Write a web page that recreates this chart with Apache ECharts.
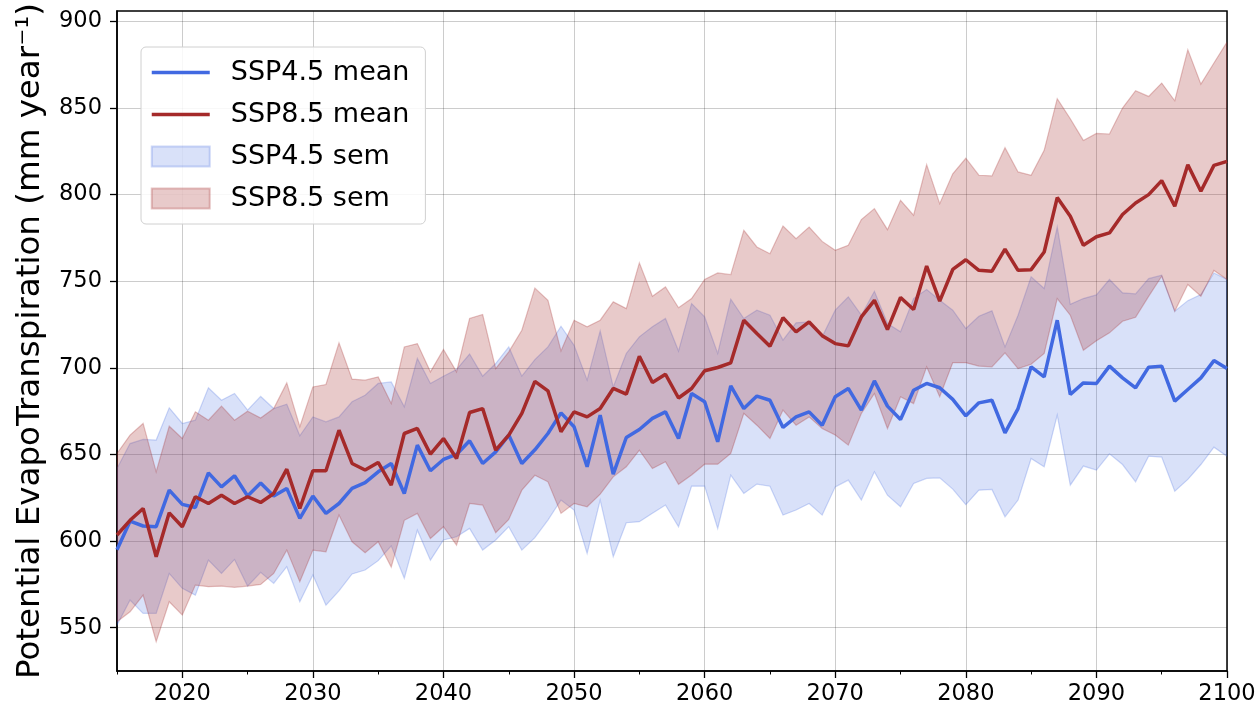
<!DOCTYPE html>
<html>
<head>
<meta charset="utf-8">
<script src="https://cdn.jsdelivr.net/npm/echarts@6/dist/echarts.min.js"></script>
<style>
  html, body { margin: 0; padding: 0; background: #ffffff; }
  #chart { width: 1260px; height: 710px; }
</style>
</head>
<body>
<div id="chart"></div>
<script>
// Annual potential evapotranspiration, 2015-2100 (mm per year)
const firstYear = 2015;
const lastYear = 2100;

const ssp45Mean = [
  595.0, 611.5, 608.7, 608.3, 629.4, 621.2, 619.4, 639.4, 631.3, 637.7,
  626.0, 633.5, 626.0, 630.4, 613.1, 626.0, 616.0, 621.7, 630.4, 633.7,
  640.0, 644.8, 627.5, 655.4, 640.6, 647.1, 650.0, 657.9, 644.8, 651.5,
  661.2, 644.8, 652.7, 662.1, 674.0, 666.0, 642.9, 672.7, 638.7, 659.8,
  664.4, 670.8, 674.6, 659.2, 685.2, 680.4, 657.3, 689.6, 676.5, 683.7,
  681.3, 665.6, 671.7, 674.6, 666.9, 683.3, 688.1, 675.6, 692.5, 677.9,
  670.2, 687.1, 691.0, 688.5, 681.8, 672.3, 679.8, 681.3, 662.5, 676.5,
  700.6, 694.8, 727.5, 684.6, 691.3, 691.0, 701.0, 694.2, 688.5, 700.4,
  701.0, 680.8, 687.5, 694.2, 704.2, 699.6
];
const ssp45Upper = [
  641.9, 656.3, 658.7, 658.3, 676.9, 667.9, 669.8, 688.5, 681.3, 685.2,
  675.6, 683.5, 676.5, 679.0, 660.8, 671.7, 668.8, 671.7, 680.4, 684.2,
  691.0, 691.9, 677.5, 705.4, 691.0, 695.2, 699.0, 708.0, 695.2, 702.5,
  712.1, 695.2, 704.8, 712.1, 724.0, 713.0, 692.9, 721.3, 689.0, 708.3,
  717.9, 723.7, 728.5, 709.7, 737.1, 729.4, 708.3, 739.6, 728.5, 733.3,
  730.4, 716.0, 726.0, 726.5, 717.9, 733.3, 741.0, 730.4, 744.2, 725.6,
  720.8, 740.0, 745.2, 739.0, 733.3, 722.7, 729.8, 732.9, 712.1, 730.4,
  752.5, 745.8, 781.3, 736.7, 740.0, 742.1, 751.0, 743.3, 742.7, 751.5,
  753.5, 732.7, 738.8, 742.3, 754.8, 751.0
];
const ssp45Lower = [
  551.5, 566.0, 558.3, 558.3, 581.3, 572.7, 568.8, 589.0, 581.3, 589.4,
  574.0, 582.0, 575.6, 585.2, 565.0, 580.4, 563.0, 571.3, 581.0, 583.3,
  588.7, 597.3, 578.5, 606.3, 589.0, 600.6, 602.5, 607.3, 594.8, 600.6,
  608.3, 594.8, 602.0, 612.1, 623.7, 617.9, 592.9, 623.7, 591.0, 610.6,
  611.2, 616.0, 620.8, 608.3, 631.7, 631.7, 607.3, 638.1, 627.5, 632.9,
  631.7, 615.0, 617.9, 621.7, 615.0, 631.3, 635.2, 623.7, 640.0, 626.5,
  619.8, 633.3, 636.2, 636.5, 630.0, 621.0, 629.4, 629.8, 614.0, 623.7,
  647.7, 642.9, 672.7, 632.3, 643.3, 641.0, 650.4, 644.2, 634.2, 649.0,
  648.5, 628.8, 635.6, 644.2, 654.2, 649.0
];

const ssp85Mean = [
  603.5, 612.0, 618.8, 591.0, 616.3, 608.3, 625.6, 621.7, 626.5, 621.7,
  625.6, 622.3, 627.5, 641.5, 618.8, 640.6, 640.6, 664.0, 644.8, 641.0,
  645.4, 632.3, 662.1, 665.0, 650.2, 659.2, 647.7, 674.2, 676.5, 652.5,
  661.2, 673.7, 692.2, 686.7, 663.1, 674.6, 671.7, 676.5, 688.1, 684.8,
  706.7, 691.5, 696.3, 682.6, 688.1, 698.3, 700.2, 702.9, 727.5, 719.8,
  712.5, 729.0, 720.8, 726.5, 718.6, 714.0, 712.7, 729.4, 739.0, 722.1,
  740.6, 733.7, 758.8, 738.5, 756.8, 762.4, 756.3, 755.8, 768.5, 756.3,
  756.7, 766.9, 798.3, 787.5, 770.8, 775.7, 777.9, 788.5, 795.2, 800.0,
  808.1, 793.3, 817.3, 801.9, 816.9, 819.2
];
const ssp85Upper = [
  650.6, 661.2, 667.9, 640.0, 666.3, 659.2, 674.6, 669.8, 677.9, 669.8,
  675.0, 671.0, 676.5, 691.3, 666.0, 689.0, 690.4, 714.4, 693.5, 692.9,
  694.8, 679.4, 712.1, 714.0, 697.7, 710.6, 697.7, 728.5, 730.8, 699.6,
  709.2, 721.7, 746.0, 739.0, 709.8, 727.5, 723.7, 727.5, 738.1, 734.2,
  760.6, 741.3, 746.7, 734.7, 740.0, 751.0, 754.8, 753.8, 779.4, 769.8,
  765.9, 781.9, 774.6, 781.3, 773.0, 767.9, 770.8, 785.6, 791.9, 779.8,
  796.7, 788.1, 817.3, 794.8, 812.0, 821.0, 811.2, 810.8, 827.1, 813.1,
  811.2, 825.6, 855.4, 843.8, 831.3, 835.3, 835.0, 850.0, 860.0, 856.7,
  864.4, 854.2, 883.7, 863.8, 876.0, 888.1
];
const ssp85Lower = [
  553.5, 559.2, 568.8, 541.9, 565.0, 557.3, 574.6, 573.7, 574.0, 573.3,
  574.0, 575.0, 581.3, 594.8, 576.5, 594.8, 593.8, 615.0, 599.6, 593.3,
  599.6, 585.0, 612.0, 616.0, 601.5, 608.3, 597.7, 621.7, 620.8, 604.8,
  612.5, 629.4, 638.0, 634.2, 616.0, 621.7, 619.8, 627.1, 637.1, 642.9,
  652.5, 641.9, 645.8, 632.8, 638.1, 644.4, 644.4, 650.6, 673.7, 666.9,
  659.2, 675.6, 666.9, 671.7, 665.0, 661.2, 655.4, 673.7, 685.2, 665.0,
  683.3, 679.4, 700.6, 683.3, 703.0, 703.0, 701.0, 700.6, 708.7, 699.6,
  702.1, 708.3, 740.0, 730.4, 710.2, 715.7, 720.2, 726.9, 729.2, 741.3,
  752.9, 732.7, 748.1, 741.3, 756.2, 751.0
];

const xTickLabels = [2020, 2030, 2040, 2050, 2060, 2070, 2080, 2090, 2100];
const xMinorTicks = [2015, 2025, 2035, 2045, 2055, 2065, 2075, 2085, 2095];
const yTickLabels = [550, 600, 650, 700, 750, 800, 850, 900];

const FONT = 'DejaVu Sans';
const BLUE = '#4169E1';
const RED = '#A52A2A';
const BLUE_FILL = 'rgba(65,105,225,0.2)';
const BLUE_EDGE = 'rgba(65,105,225,0.25)';
const RED_FILL = 'rgba(165,42,42,0.25)';
const RED_EDGE = 'rgba(165,42,42,0.28)';
const MEAN_WIDTH = 3.5;

const years = ssp45Mean.map((_, i) => firstYear + i);
const pairs = (vals) => vals.map((v, i) => [years[i], v]);

// Shaded band between lower and upper bounds, drawn as one closed polygon
function band(name, lower, upper, fill, edge) {
  return {
    name: name,
    type: 'custom',
    silent: true,
    clip: true,
    z: 2,
    itemStyle: { color: fill, borderColor: edge, borderWidth: 1 },
    data: years.map((y, i) => [y, lower[i], upper[i]]),
    encode: { x: 0, y: [1, 2] },
    renderItem: function (params, api) {
      if (params.dataIndex !== 0) return null;
      const pts = [];
      for (let i = 0; i < years.length; i++) pts.push(api.coord([years[i], upper[i]]));
      for (let i = years.length - 1; i >= 0; i--) pts.push(api.coord([years[i], lower[i]]));
      return {
        type: 'polygon',
        shape: { points: pts },
        style: { fill: fill, stroke: edge, lineWidth: 1.2 }
      };
    }
  };
}

const chart = echarts.init(document.getElementById('chart'), null, { renderer: 'canvas' });

chart.setOption({
  animation: false,
  backgroundColor: '#ffffff',
  textStyle: { fontFamily: FONT },
  grid: {
    left: 117, right: 33, top: 9, bottom: 39,
    show: true, borderColor: '#000', borderWidth: 1.5
  },
  legend: {
    data: [
      { name: 'SSP4.5 mean', itemStyle: { opacity: 0 }, lineStyle: { width: MEAN_WIDTH } },
      { name: 'SSP8.5 mean', itemStyle: { opacity: 0 }, lineStyle: { width: MEAN_WIDTH } },
      { name: 'SSP4.5 sem', icon: 'rect' },
      { name: 'SSP8.5 sem', icon: 'rect' }
    ],
    orient: 'vertical',
    left: 141, top: 47,
    itemWidth: 58, itemHeight: 20, itemGap: 15,
    padding: [12, 16, 12, 9],
    backgroundColor: 'rgba(255,255,255,0.85)',
    borderColor: '#d0d0d0', borderWidth: 1, borderRadius: 5,
    selectedMode: false,
    textStyle: { fontFamily: FONT, fontSize: 27, color: '#000', padding: [0, 0, 0, 16] }
  },
  xAxis: [
    {
      type: 'value', min: firstYear, max: lastYear,
      axisLine: { show: true, onZero: false, lineStyle: { color: '#000', width: 1.5 } },
      axisTick: { show: true, length: 7, customValues: xTickLabels, lineStyle: { color: '#000', width: 1.3 } },
      axisLabel: {
        customValues: xTickLabels,
        formatter: (v) => String(v),
        fontFamily: FONT, fontSize: 22.5, color: '#000', margin: 12
      },
      splitLine: { show: true, lineStyle: { color: 'rgba(0,0,0,0.2)', width: 1 } }
    },
    {
      // minor year ticks
      type: 'value', min: firstYear, max: lastYear, position: 'bottom',
      axisLine: { show: false, onZero: false },
      axisTick: { show: true, length: 3.5, customValues: xMinorTicks, lineStyle: { color: '#000', width: 1 } },
      axisLabel: { show: false },
      splitLine: { show: false }
    }
  ],
  yAxis: {
    type: 'value', min: 525, max: 906,
    name: 'Potential EvapoTranspiration (mm year\u207B\u00B9)',
    nameLocation: 'middle', nameRotate: 90, nameGap: 70,
    nameTextStyle: { fontFamily: FONT, fontSize: 32.5, color: '#000' },
    axisLine: { show: true, onZero: false, lineStyle: { color: '#000', width: 1.5 } },
    axisTick: { show: true, length: 7, customValues: yTickLabels, lineStyle: { color: '#000', width: 1.3 } },
    axisLabel: {
      customValues: yTickLabels,
      formatter: (v) => String(v),
      fontFamily: FONT, fontSize: 22.5, color: '#000', margin: 15
    },
    splitLine: { show: true, lineStyle: { color: 'rgba(0,0,0,0.2)', width: 1 } }
  },
  series: [
    band('SSP4.5 sem', ssp45Lower, ssp45Upper, BLUE_FILL, BLUE_EDGE),
    band('SSP8.5 sem', ssp85Lower, ssp85Upper, RED_FILL, RED_EDGE),
    {
      name: 'SSP4.5 mean', type: 'line', data: pairs(ssp45Mean),
      symbol: 'none', z: 4, lineStyle: { color: BLUE, width: MEAN_WIDTH }, itemStyle: { color: BLUE }
    },
    {
      name: 'SSP8.5 mean', type: 'line', data: pairs(ssp85Mean),
      symbol: 'none', z: 4, lineStyle: { color: RED, width: MEAN_WIDTH }, itemStyle: { color: RED }
    }
  ]
});
</script>
</body>
</html>
